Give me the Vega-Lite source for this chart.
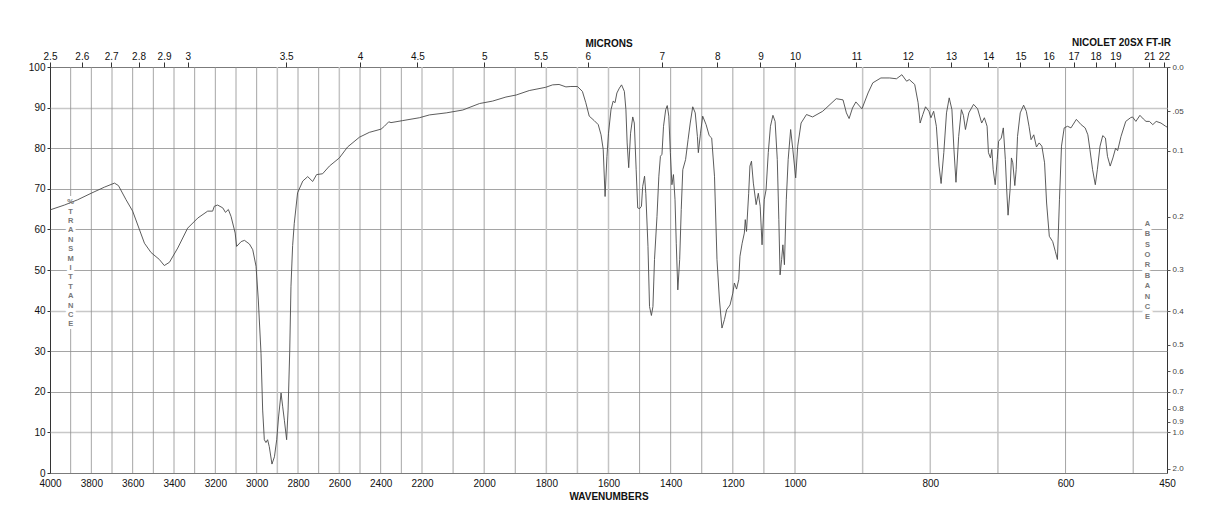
{
  "$schema": "https://vega.github.io/schema/vega-lite/v6.json",
  "width": 1117,
  "height": 406,
  "autosize": {"type": "none"},
  "padding": {"left": 50, "top": 67, "right": 51, "bottom": 55},
  "background": "white",
  "config": {
    "view": {"stroke": "#333333", "strokeWidth": 1},
    "font": "Liberation Sans",
    "axis": {"labelFont": "Liberation Sans", "titleFont": "Liberation Sans", "labelColor": "#111111", "titleColor": "#111111", "domain": false, "labelFontSize": 10, "titleFontSize": 10, "titleFontWeight": "bold"}
  },
  "datasets": {
    "spectrum": [
      {"wn": 4000, "T": 64.8}, {"wn": 3930, "T": 66.0}, {"wn": 3866, "T": 67.3}, {"wn": 3801, "T": 68.9}, {"wn": 3737, "T": 70.4}, {"wn": 3688, "T": 71.4}, {"wn": 3669, "T": 70.8}, {"wn": 3632, "T": 67.3}, {"wn": 3600, "T": 64.5}, {"wn": 3543, "T": 56.6}, {"wn": 3511, "T": 54.3}, {"wn": 3471, "T": 52.6}, {"wn": 3447, "T": 51.1}, {"wn": 3422, "T": 51.9}, {"wn": 3382, "T": 55.4}, {"wn": 3334, "T": 60.3}, {"wn": 3285, "T": 62.8}, {"wn": 3237, "T": 64.5}, {"wn": 3213, "T": 64.5}, {"wn": 3205, "T": 65.7}, {"wn": 3189, "T": 66.0}, {"wn": 3164, "T": 65.3}, {"wn": 3151, "T": 64.2}, {"wn": 3137, "T": 64.9}, {"wn": 3124, "T": 63.2}, {"wn": 3104, "T": 59.1}, {"wn": 3097, "T": 55.8}, {"wn": 3075, "T": 57.0}, {"wn": 3059, "T": 57.3}, {"wn": 3035, "T": 56.4}, {"wn": 3019, "T": 55.0}, {"wn": 3003, "T": 50.9}, {"wn": 2992, "T": 42.6}, {"wn": 2979, "T": 29.5}, {"wn": 2971, "T": 15.5}, {"wn": 2963, "T": 8.2}, {"wn": 2955, "T": 7.5}, {"wn": 2947, "T": 8.2}, {"wn": 2939, "T": 6.5}, {"wn": 2926, "T": 2.2}, {"wn": 2914, "T": 4.0}, {"wn": 2903, "T": 8.2}, {"wn": 2894, "T": 13.8}, {"wn": 2882, "T": 19.7}, {"wn": 2874, "T": 16.3}, {"wn": 2866, "T": 13.0}, {"wn": 2855, "T": 8.2}, {"wn": 2848, "T": 15.5}, {"wn": 2840, "T": 30.0}, {"wn": 2834, "T": 46.0}, {"wn": 2826, "T": 56.0}, {"wn": 2818, "T": 61.5}, {"wn": 2802, "T": 69.0}, {"wn": 2777, "T": 71.9}, {"wn": 2753, "T": 73.0}, {"wn": 2729, "T": 71.8}, {"wn": 2710, "T": 73.5}, {"wn": 2681, "T": 73.7}, {"wn": 2648, "T": 75.6}, {"wn": 2600, "T": 77.6}, {"wn": 2560, "T": 80.3}, {"wn": 2503, "T": 82.7}, {"wn": 2455, "T": 83.9}, {"wn": 2398, "T": 84.7}, {"wn": 2382, "T": 85.4}, {"wn": 2361, "T": 86.5}, {"wn": 2350, "T": 86.3}, {"wn": 2293, "T": 86.8}, {"wn": 2213, "T": 87.5}, {"wn": 2176, "T": 88.2}, {"wn": 2122, "T": 88.7}, {"wn": 2069, "T": 89.4}, {"wn": 2015, "T": 91.0}, {"wn": 1973, "T": 91.6}, {"wn": 1930, "T": 92.6}, {"wn": 1897, "T": 93.1}, {"wn": 1855, "T": 94.2}, {"wn": 1802, "T": 95.0}, {"wn": 1780, "T": 95.6}, {"wn": 1759, "T": 95.7}, {"wn": 1737, "T": 95.1}, {"wn": 1721, "T": 95.2}, {"wn": 1700, "T": 95.2}, {"wn": 1684, "T": 94.0}, {"wn": 1673, "T": 91.2}, {"wn": 1662, "T": 87.9}, {"wn": 1646, "T": 86.8}, {"wn": 1633, "T": 85.8}, {"wn": 1624, "T": 83.3}, {"wn": 1617, "T": 79.7}, {"wn": 1611, "T": 68.1}, {"wn": 1605, "T": 78.0}, {"wn": 1600, "T": 83.7}, {"wn": 1592, "T": 89.5}, {"wn": 1585, "T": 91.6}, {"wn": 1579, "T": 91.2}, {"wn": 1573, "T": 93.6}, {"wn": 1565, "T": 94.8}, {"wn": 1558, "T": 95.6}, {"wn": 1549, "T": 94.0}, {"wn": 1544, "T": 89.5}, {"wn": 1540, "T": 81.3}, {"wn": 1535, "T": 75.2}, {"wn": 1529, "T": 83.7}, {"wn": 1522, "T": 87.7}, {"wn": 1517, "T": 86.2}, {"wn": 1511, "T": 74.7}, {"wn": 1506, "T": 65.3}, {"wn": 1500, "T": 65.1}, {"wn": 1494, "T": 65.7}, {"wn": 1490, "T": 70.6}, {"wn": 1484, "T": 73.1}, {"wn": 1480, "T": 68.9}, {"wn": 1473, "T": 55.8}, {"wn": 1468, "T": 41.0}, {"wn": 1462, "T": 38.8}, {"wn": 1457, "T": 41.0}, {"wn": 1452, "T": 52.6}, {"wn": 1444, "T": 63.2}, {"wn": 1438, "T": 73.1}, {"wn": 1433, "T": 78.0}, {"wn": 1428, "T": 78.5}, {"wn": 1423, "T": 85.4}, {"wn": 1416, "T": 89.5}, {"wn": 1411, "T": 90.5}, {"wn": 1406, "T": 87.9}, {"wn": 1401, "T": 78.9}, {"wn": 1396, "T": 71.0}, {"wn": 1391, "T": 73.5}, {"wn": 1386, "T": 67.3}, {"wn": 1382, "T": 56.6}, {"wn": 1377, "T": 45.1}, {"wn": 1371, "T": 52.6}, {"wn": 1366, "T": 64.9}, {"wn": 1361, "T": 74.7}, {"wn": 1352, "T": 77.2}, {"wn": 1344, "T": 82.1}, {"wn": 1337, "T": 86.2}, {"wn": 1329, "T": 90.2}, {"wn": 1321, "T": 88.7}, {"wn": 1314, "T": 82.9}, {"wn": 1311, "T": 78.9}, {"wn": 1304, "T": 83.7}, {"wn": 1297, "T": 87.9}, {"wn": 1286, "T": 85.8}, {"wn": 1276, "T": 83.1}, {"wn": 1268, "T": 82.5}, {"wn": 1259, "T": 73.1}, {"wn": 1251, "T": 52.6}, {"wn": 1243, "T": 42.6}, {"wn": 1235, "T": 35.7}, {"wn": 1227, "T": 37.8}, {"wn": 1220, "T": 40.2}, {"wn": 1209, "T": 41.4}, {"wn": 1200, "T": 44.3}, {"wn": 1195, "T": 46.8}, {"wn": 1188, "T": 45.3}, {"wn": 1181, "T": 47.6}, {"wn": 1177, "T": 53.4}, {"wn": 1170, "T": 56.6}, {"wn": 1163, "T": 59.1}, {"wn": 1160, "T": 62.4}, {"wn": 1156, "T": 59.5}, {"wn": 1149, "T": 68.9}, {"wn": 1145, "T": 75.6}, {"wn": 1140, "T": 76.8}, {"wn": 1134, "T": 71.4}, {"wn": 1125, "T": 66.1}, {"wn": 1118, "T": 68.9}, {"wn": 1112, "T": 65.7}, {"wn": 1106, "T": 56.2}, {"wn": 1099, "T": 67.3}, {"wn": 1093, "T": 69.8}, {"wn": 1086, "T": 78.9}, {"wn": 1079, "T": 85.4}, {"wn": 1071, "T": 88.1}, {"wn": 1064, "T": 86.6}, {"wn": 1057, "T": 77.2}, {"wn": 1052, "T": 62.4}, {"wn": 1048, "T": 48.8}, {"wn": 1043, "T": 52.6}, {"wn": 1039, "T": 56.2}, {"wn": 1034, "T": 51.3}, {"wn": 1028, "T": 67.3}, {"wn": 1022, "T": 77.2}, {"wn": 1014, "T": 84.6}, {"wn": 1007, "T": 79.7}, {"wn": 999, "T": 72.7}, {"wn": 996, "T": 80.5}, {"wn": 991, "T": 86.2}, {"wn": 983, "T": 88.3}, {"wn": 974, "T": 87.7}, {"wn": 959, "T": 89.1}, {"wn": 939, "T": 92.2}, {"wn": 929, "T": 91.9}, {"wn": 924, "T": 88.7}, {"wn": 920, "T": 87.3}, {"wn": 915, "T": 89.9}, {"wn": 910, "T": 91.4}, {"wn": 901, "T": 89.7}, {"wn": 892, "T": 93.6}, {"wn": 885, "T": 96.1}, {"wn": 873, "T": 97.3}, {"wn": 860, "T": 97.3}, {"wn": 850, "T": 97.1}, {"wn": 842, "T": 98.1}, {"wn": 835, "T": 96.5}, {"wn": 831, "T": 96.9}, {"wn": 823, "T": 95.7}, {"wn": 818, "T": 91.2}, {"wn": 815, "T": 86.2}, {"wn": 811, "T": 88.3}, {"wn": 807, "T": 90.2}, {"wn": 802, "T": 89.1}, {"wn": 799, "T": 87.5}, {"wn": 795, "T": 89.1}, {"wn": 791, "T": 85.4}, {"wn": 787, "T": 75.6}, {"wn": 784, "T": 71.3}, {"wn": 780, "T": 78.9}, {"wn": 776, "T": 88.7}, {"wn": 772, "T": 92.4}, {"wn": 768, "T": 89.5}, {"wn": 765, "T": 79.7}, {"wn": 762, "T": 71.6}, {"wn": 758, "T": 82.9}, {"wn": 754, "T": 89.5}, {"wn": 751, "T": 88.1}, {"wn": 748, "T": 84.6}, {"wn": 743, "T": 88.7}, {"wn": 736, "T": 90.8}, {"wn": 730, "T": 89.7}, {"wn": 724, "T": 86.2}, {"wn": 720, "T": 87.5}, {"wn": 716, "T": 85.4}, {"wn": 714, "T": 78.9}, {"wn": 711, "T": 77.6}, {"wn": 709, "T": 79.7}, {"wn": 707, "T": 74.7}, {"wn": 704, "T": 71.0}, {"wn": 701, "T": 77.2}, {"wn": 699, "T": 81.7}, {"wn": 695, "T": 82.5}, {"wn": 692, "T": 85.0}, {"wn": 689, "T": 77.2}, {"wn": 687, "T": 69.8}, {"wn": 685, "T": 63.5}, {"wn": 682, "T": 69.8}, {"wn": 680, "T": 77.6}, {"wn": 678, "T": 76.4}, {"wn": 675, "T": 70.8}, {"wn": 673, "T": 74.7}, {"wn": 671, "T": 82.9}, {"wn": 667, "T": 88.7}, {"wn": 662, "T": 90.6}, {"wn": 658, "T": 89.1}, {"wn": 654, "T": 85.4}, {"wn": 651, "T": 82.1}, {"wn": 647, "T": 83.3}, {"wn": 643, "T": 80.3}, {"wn": 639, "T": 81.3}, {"wn": 635, "T": 80.5}, {"wn": 631, "T": 76.4}, {"wn": 628, "T": 66.5}, {"wn": 624, "T": 58.3}, {"wn": 619, "T": 57.0}, {"wn": 615, "T": 54.5}, {"wn": 612, "T": 52.6}, {"wn": 609, "T": 67.3}, {"wn": 606, "T": 80.5}, {"wn": 602, "T": 85.0}, {"wn": 597, "T": 85.4}, {"wn": 592, "T": 85.0}, {"wn": 584, "T": 87.1}, {"wn": 577, "T": 85.8}, {"wn": 571, "T": 85.0}, {"wn": 567, "T": 83.3}, {"wn": 564, "T": 79.7}, {"wn": 560, "T": 74.7}, {"wn": 556, "T": 71.0}, {"wn": 553, "T": 74.7}, {"wn": 549, "T": 80.5}, {"wn": 545, "T": 83.1}, {"wn": 541, "T": 82.5}, {"wn": 538, "T": 78.0}, {"wn": 534, "T": 75.6}, {"wn": 530, "T": 77.6}, {"wn": 526, "T": 80.0}, {"wn": 523, "T": 79.4}, {"wn": 518, "T": 82.9}, {"wn": 511, "T": 86.6}, {"wn": 504, "T": 87.5}, {"wn": 501, "T": 87.7}, {"wn": 496, "T": 86.6}, {"wn": 490, "T": 88.1}, {"wn": 485, "T": 87.2}, {"wn": 481, "T": 86.6}, {"wn": 476, "T": 86.6}, {"wn": 471, "T": 85.8}, {"wn": 466, "T": 86.6}, {"wn": 459, "T": 86.2}, {"wn": 452, "T": 85.4}, {"wn": 450, "T": 85.2}
    ],
    "vgrid": [
      {"wn": 3900}, {"wn": 3800}, {"wn": 3700}, {"wn": 3600}, {"wn": 3500}, {"wn": 3400}, {"wn": 3300}, {"wn": 3200}, {"wn": 3100}, {"wn": 3000}, {"wn": 2900}, {"wn": 2800}, {"wn": 2700}, {"wn": 2600}, {"wn": 2500}, {"wn": 2400}, {"wn": 2300}, {"wn": 2200}, {"wn": 2100}, {"wn": 2000}, {"wn": 1900}, {"wn": 1800}, {"wn": 1700}, {"wn": 1600}, {"wn": 1500}, {"wn": 1400}, {"wn": 1300}, {"wn": 1200}, {"wn": 1100}, {"wn": 1000}, {"wn": 900}, {"wn": 800}, {"wn": 700}, {"wn": 600}, {"wn": 500}
    ],
    "leftlabel": [{"wn": 3900, "T": 66.7, "text": "%\nT\nR\nA\nN\nS\nM\nI\nT\nT\nA\nN\nC\nE"}],
    "rightlabel": [{"wn": 479, "T": 61.4, "text": "A\nB\nS\nO\nR\nB\nA\nN\nC\nE"}],
    "brand": [{"wn": 450, "T": 105.8, "text": "NICOLET 20SX FT-IR"}]
  },
  "layer": [
    {
      "data": {"name": "vgrid"},
      "mark": {"type": "rule"},
      "encoding": {
        "x": {
          "field": "wn", "type": "quantitative",
          "scale": {"domain": [4000, 2200, 1000, 450], "range": [0, 372, 745, 1117], "nice": false, "zero": false},
          "axis": {
            "orient": "top", "title": "MICRONS", "grid": false,
            "values": [4000, 3846.1538, 3703.7037, 3571.4286, 3448.2759, 3333.3333, 2857.1429, 2500, 2222.2222, 2000, 1818.1818, 1666.6667, 1428.5714, 1250, 1111.1111, 1000, 909.0909, 833.3333, 769.2308, 714.2857, 666.6667, 625, 588.2353, 555.5556, 526.3158, 476.1905, 454.5455],
            "labelExpr": "'' + round(100000 / datum.value) / 10",
            "tickSize": 5, "tickColor": "#333333", "labelPadding": 1, "titlePadding": 3,
            "labelFlush": false, "labelOverlap": false
          }
        },
        "color": {"condition": {"test": "indexof([2900, 2600, 2200, 1800, 1700, 1600, 900, 800, 700], datum.wn) >= 0", "value": "#c4c4c4"}, "value": "#8e8e8e"},
        "strokeWidth": {"condition": {"test": "indexof([2900, 2600, 2200, 1800, 1700, 1600, 900, 800, 700], datum.wn) >= 0", "value": 1.5}, "value": 0.8}
      }
    },
    {
      "data": {"name": "leftlabel"},
      "mark": {"type": "text", "lineBreak": "\n", "lineHeight": 9.4, "fontSize": 7.5, "fontWeight": "bold", "font": "Liberation Sans", "stroke": "white", "strokeWidth": 6, "fill": "white", "align": "center", "baseline": "middle"},
      "encoding": {
        "x": {"field": "wn", "type": "quantitative", "scale": {"domain": [4000, 2200, 1000, 450], "range": [0, 372, 745, 1117], "nice": false, "zero": false}, "axis": null},
        "y": {"field": "T", "type": "quantitative", "scale": {"domain": [0, 100], "nice": false, "zero": false}, "axis": null},
        "text": {"field": "text", "type": "nominal"}
      }
    },
    {
      "data": {"name": "rightlabel"},
      "mark": {"type": "text", "lineBreak": "\n", "lineHeight": 10.4, "fontSize": 7.5, "fontWeight": "bold", "font": "Liberation Sans", "stroke": "white", "strokeWidth": 6, "fill": "white", "align": "center", "baseline": "middle"},
      "encoding": {
        "x": {"field": "wn", "type": "quantitative", "scale": {"domain": [4000, 2200, 1000, 450], "range": [0, 372, 745, 1117], "nice": false, "zero": false}, "axis": null},
        "y": {
          "field": "T", "type": "quantitative", "scale": {"domain": [0, 100], "nice": false, "zero": false},
          "axis": {
            "orient": "right", "title": null, "grid": false,
            "values": [100, 89.125, 79.433, 63.096, 50.119, 39.811, 31.623, 25.119, 19.953, 15.849, 12.589, 10, 1],
            "labelExpr": "datum.value >= 99.9 ? '0.0' : datum.value > 85 ? '.05' : format(2 - log(datum.value) / LN10, '.1f')",
            "tickSize": 3, "tickColor": "#555555", "labelColor": "#444444", "labelFontSize": 8, "labelPadding": 2, "labelOverlap": false, "labelFlush": false
          }
        },
        "text": {"field": "text", "type": "nominal"}
      }
    },
    {
      "data": {"name": "spectrum"},
      "mark": {"type": "line", "stroke": "#4a4a4a", "strokeWidth": 0.9, "interpolate": "linear"},
      "encoding": {
        "x": {
          "field": "wn", "type": "quantitative",
          "scale": {"domain": [4000, 2200, 1000, 450], "range": [0, 372, 745, 1117], "nice": false, "zero": false},
          "axis": {
            "orient": "bottom", "title": "WAVENUMBERS", "grid": false, "format": "d",
            "values": [4000, 3800, 3600, 3400, 3200, 3000, 2800, 2600, 2400, 2200, 2000, 1800, 1600, 1400, 1200, 1000, 800, 600, 450],
            "tickSize": 0, "labelPadding": 5, "titlePadding": 3, "labelFlush": false, "labelOverlap": false
          }
        },
        "y": {
          "field": "T", "type": "quantitative",
          "scale": {"domain": [0, 100], "nice": false, "zero": false},
          "axis": {
            "orient": "left", "title": null, "format": "d",
            "values": [0, 10, 20, 30, 40, 50, 60, 70, 80, 90, 100],
            "grid": true,
            "gridColor": {"condition": {"test": "datum.value === 90 || datum.value === 40 || datum.value === 10", "value": "#c8c8c8"}, "value": "#8e8e8e"},
            "gridWidth": {"condition": {"test": "datum.value === 90 || datum.value === 40 || datum.value === 10", "value": 1.6}, "value": 0.8},
            "tickSize": 3, "tickColor": "#333333", "labelPadding": 2, "labelFlush": false
          }
        }
      }
    },
    {
      "data": {"name": "leftlabel"},
      "mark": {"type": "text", "lineBreak": "\n", "lineHeight": 9.4, "fontSize": 7.5, "fontWeight": "bold", "font": "Liberation Sans", "fill": "#777777", "align": "center", "baseline": "middle"},
      "encoding": {
        "x": {"field": "wn", "type": "quantitative", "scale": {"domain": [4000, 2200, 1000, 450], "range": [0, 372, 745, 1117], "nice": false, "zero": false}, "axis": null},
        "y": {"field": "T", "type": "quantitative", "scale": {"domain": [0, 100], "nice": false, "zero": false}, "axis": null},
        "text": {"field": "text", "type": "nominal"}
      }
    },
    {
      "data": {"name": "rightlabel"},
      "mark": {"type": "text", "lineBreak": "\n", "lineHeight": 10.4, "fontSize": 7.5, "fontWeight": "bold", "font": "Liberation Sans", "fill": "#777777", "align": "center", "baseline": "middle"},
      "encoding": {
        "x": {"field": "wn", "type": "quantitative", "scale": {"domain": [4000, 2200, 1000, 450], "range": [0, 372, 745, 1117], "nice": false, "zero": false}, "axis": null},
        "y": {"field": "T", "type": "quantitative", "scale": {"domain": [0, 100], "nice": false, "zero": false}, "axis": null},
        "text": {"field": "text", "type": "nominal"}
      }
    },
    {
      "data": {"name": "brand"},
      "mark": {"type": "text", "fontSize": 10, "fontWeight": "bold", "font": "Liberation Sans", "fill": "#111111", "align": "right", "baseline": "middle", "dx": 4},
      "encoding": {
        "x": {"field": "wn", "type": "quantitative", "scale": {"domain": [4000, 2200, 1000, 450], "range": [0, 372, 745, 1117], "nice": false, "zero": false}, "axis": null},
        "y": {"field": "T", "type": "quantitative", "scale": {"domain": [0, 100], "nice": false, "zero": false}, "axis": null},
        "text": {"field": "text", "type": "nominal"}
      }
    }
  ],
  "resolve": {
    "scale": {"x": "independent", "y": "independent"},
    "axis": {"x": "independent", "y": "independent"}
  }
}
